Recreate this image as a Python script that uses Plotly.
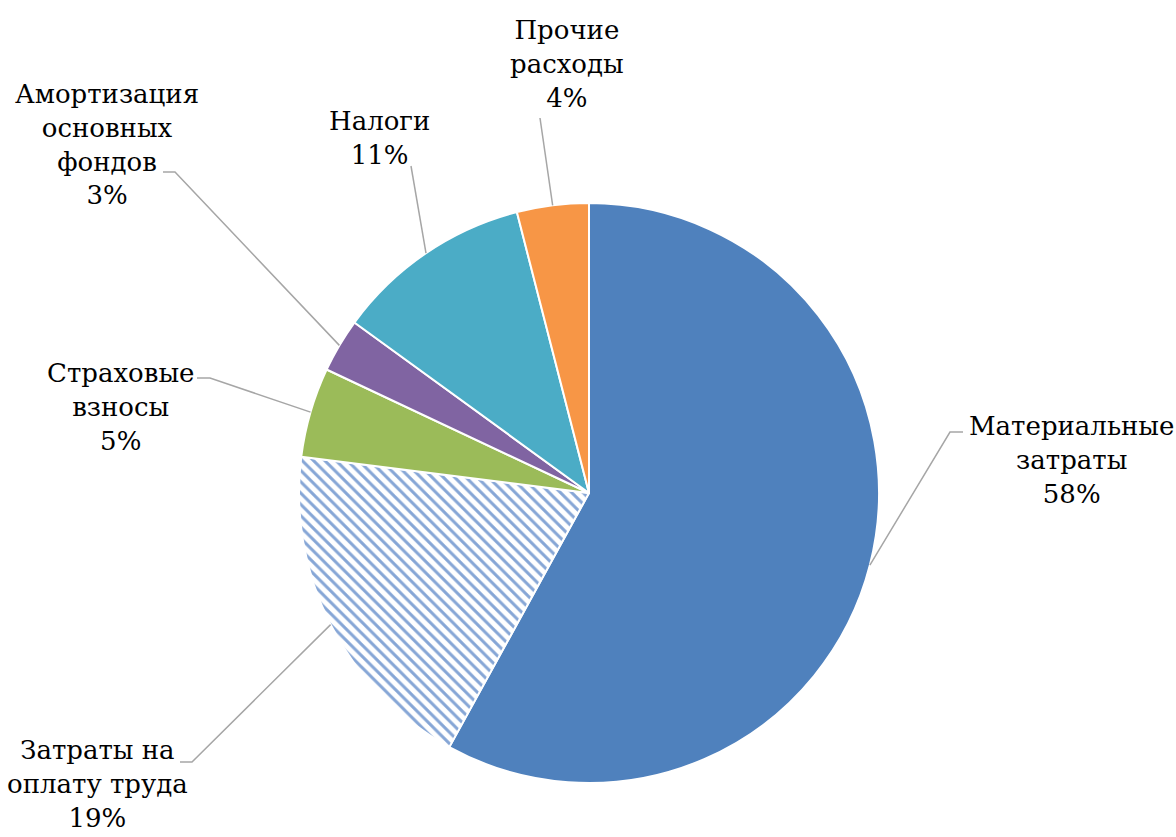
import math
import plotly.graph_objects as go

# Cost structure, shares in percent (clockwise from 12 o'clock)
categories = [
    "Материальные<br>затраты",
    "Затраты на<br>оплату труда",
    "Страховые<br>взносы",
    "Амортизация<br>основных<br>фондов",
    "Налоги",
    "Прочие<br>расходы",
]
values = [58, 19, 5, 3, 11, 4]
colors = ["#4F81BD", "#FFFFFF", "#9BBB59", "#8064A2", "#4BACC6", "#F79646"]

W, H = 1176, 837
CX, CY, R = 589, 493, 290  # pie centre and radius in pixels

# Label block centres and leader-line elbow/end points (pixels)
label_pos = [(1071, 460), (97, 784), (120, 407), (107, 144), (379, 138), (567, 64)]
leader_elbow = [(950, 432), (192, 762), (210, 378), (175, 172), (411, 166), (540, 118)]
leader_end = [(963, 432), (180, 762), (197, 378), (163, 172), (411, 166), (540, 118)]

FONT = "DejaVu Serif"


def px(x):
    return x / W


def py(y):
    return 1 - y / H


fig = go.Figure()
fig.add_trace(go.Pie(
    labels=[c.replace("<br>", " ") for c in categories],
    values=values,
    sort=False,
    direction="clockwise",
    rotation=0,
    textinfo="none",
    hoverinfo="label+percent",
    showlegend=False,
    domain=dict(x=[px(CX - R), px(CX + R)], y=[py(CY + R), py(CY - R)]),
    marker=dict(
        colors=colors,
        line=dict(color="white", width=2),
        pattern=dict(
            shape=["", "\\", "", "", "", ""],
            fgcolor="#86A6D6",
            bgcolor="white",
            size=8,
            solidity=0.38,
        ),
    ),
))

total = sum(values)
cum = 0.0
shapes = []
annotations = []
for i, v in enumerate(values):
    mid = (cum + v / 2) / total * 2 * math.pi
    cum += v
    sx = CX + R * math.sin(mid)
    sy = CY - R * math.cos(mid)
    ex, ey = leader_elbow[i]
    tx, ty = leader_end[i]
    shapes.append(dict(
        type="path", xref="paper", yref="paper",
        path=f"M {px(sx)},{py(sy)} L {px(ex)},{py(ey)} L {px(tx)},{py(ty)}",
        line=dict(color="#A6A6A6", width=1.5),
    ))
    lx, ly = label_pos[i]
    annotations.append(dict(
        x=px(lx), y=py(ly), xref="paper", yref="paper",
        xanchor="center", yanchor="middle",
        text=f"{categories[i]}<br>{v}%",
        showarrow=False, align="center",
        font=dict(family=FONT, size=26, color="#000000"),
    ))

fig.update_layout(
    width=W, height=H, autosize=False,
    margin=dict(l=0, r=0, t=0, b=0),
    paper_bgcolor="white", plot_bgcolor="white",
    font=dict(family=FONT),
    shapes=shapes, annotations=annotations,
)

fig.write_html("out.html")
